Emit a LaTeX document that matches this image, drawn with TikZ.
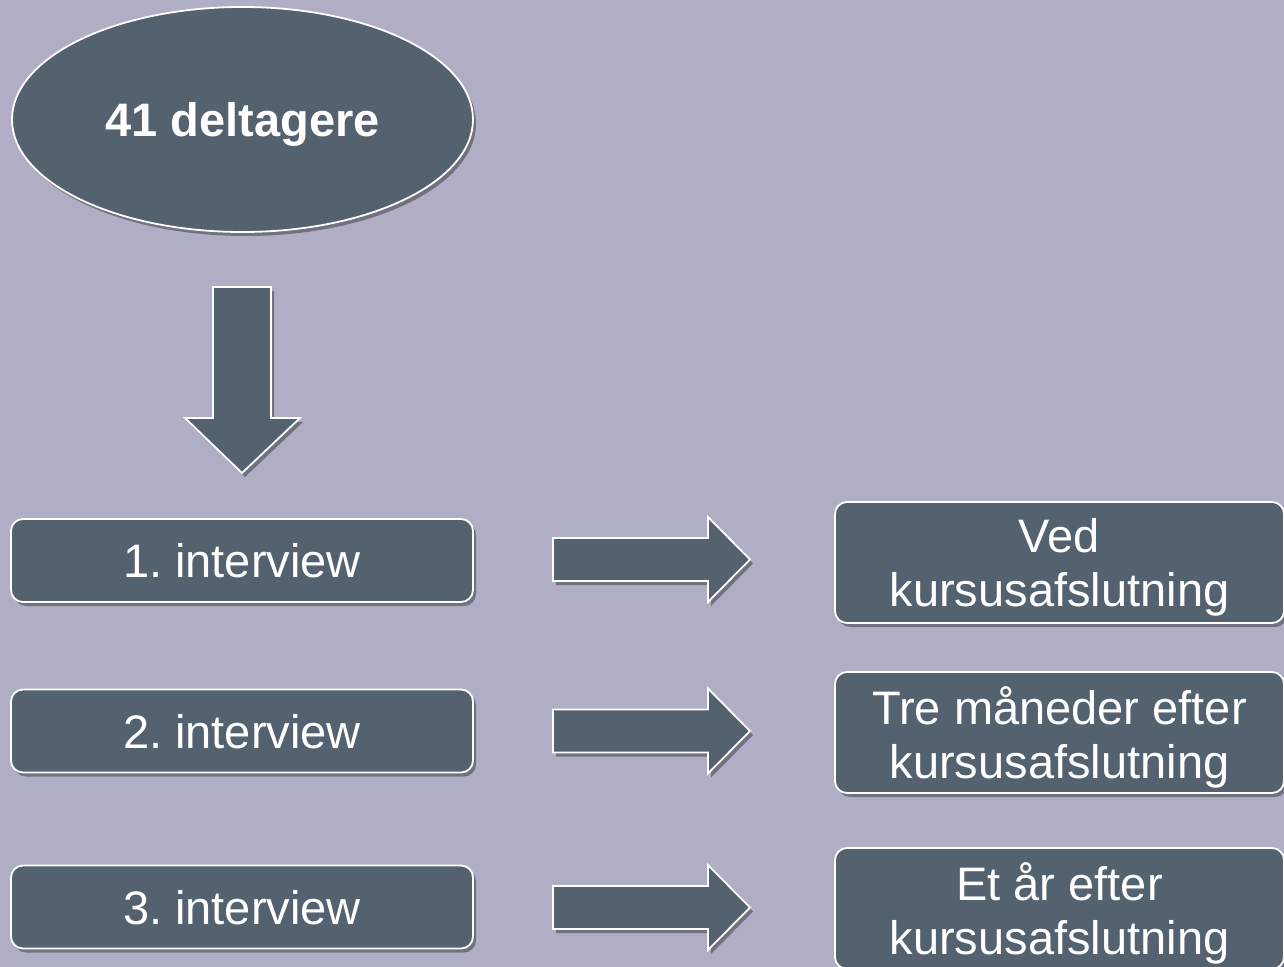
\documentclass[tikz,border=0pt]{standalone}
\usepackage{fontspec}
\setmainfont{Liberation Sans}
\usetikzlibrary{shapes.geometric,shadows}

\definecolor{slidebg}{HTML}{B0AEC4}
\definecolor{boxfill}{HTML}{54616E}
\frenchspacing

\tikzset{
    boxshadow/.style={drop shadow={shadow xshift=1.5pt,shadow yshift=-2pt,opacity=0.35,fill=black}},
    box/.style={draw=white,line width=0.9pt,fill=boxfill,text=white,rounded corners=6pt,
        inner sep=0pt,text depth=0pt,align=center,font=\fontsize{23.5}{27}\selectfont,boxshadow},
    oval/.style={ellipse,draw=white,line width=0.9pt,fill=boxfill,text=white,
        inner sep=0pt,text depth=0pt,font=\bfseries\fontsize{23.5}{27}\selectfont,boxshadow},
    blockarrow/.style={draw=white,line width=0.9pt,fill=boxfill,boxshadow}
}

\begin{document}
\begin{tikzpicture}[x=0.5pt,y=-0.5pt]
    \fill[slidebg] (0,0) rectangle (1284,967);
    \useasboundingbox (0,0) rectangle (1284,967);
    \clip (0,0) rectangle (1284,967);

    % start
    \node[oval,minimum width=230.5pt,minimum height=112.5pt] (deltagere) at (242.5,119.5) {41 deltagere};

    \draw[blockarrow] (213,287) -- (271,287) -- (271,418) -- (300,418)
        -- (242,473) -- (185,418) -- (213,418) -- cycle;

    % interviews
    \node[box,minimum width=231pt,minimum height=41.5pt] (int1) at (242,560.5) {1. interview};
    \node[box,minimum width=231pt,minimum height=41.5pt] (int2) at (242,731) {2. interview};
    \node[box,minimum width=231pt,minimum height=41.5pt] (int3) at (242,907) {3. interview};

    \foreach \y in {559.5,731,907.5}{
        \draw[blockarrow] (553,\y-21.5) -- (708,\y-21.5) -- (708,\y-42.5) -- (750,\y)
            -- (708,\y+42.5) -- (708,\y+21.5) -- (553,\y+21.5) -- cycle;
    }

    % times
    \node[box,minimum width=224.5pt,minimum height=60.5pt] (tid1) at (1059.5,562.5) {Ved\\kursusafslutning};
    \node[box,minimum width=224.5pt,minimum height=60.5pt] (tid2) at (1059.5,732.5) {Tre måneder efter\\kursusafslutning};
    \node[box,minimum width=224.5pt,minimum height=60.5pt] (tid3) at (1059.5,908.5) {Et år efter\\kursusafslutning};
\end{tikzpicture}
\end{document}
